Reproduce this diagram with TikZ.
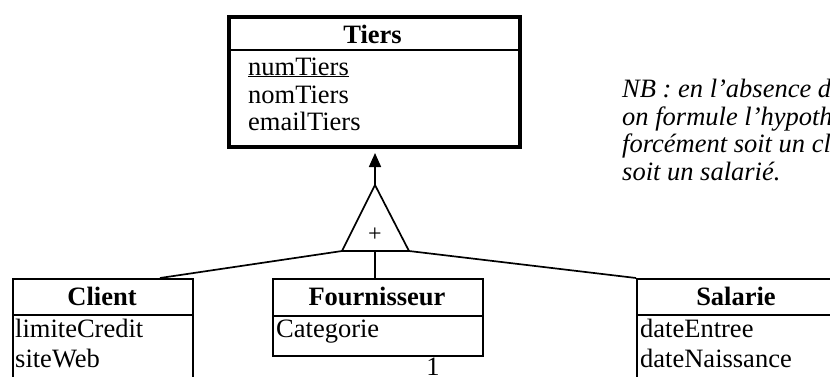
\documentclass[tikz,border=0pt]{standalone}
\usepackage{fontspec}
\setmainfont{Liberation Serif}
\usetikzlibrary{arrows.meta,calc}
\begin{document}
\begin{tikzpicture}[x=1pt,y=-1pt,
  txt/.style={inner sep=0pt, anchor=base west, font=\fontsize{26.5}{28}\selectfont},
  ttl/.style={inner sep=0pt, anchor=base, font=\fontsize{26.5}{28}\selectfont\bfseries},
  note/.style={inner sep=0pt, anchor=base west, font=\fontsize{26.5}{28}\selectfont\itshape},
  classbox/.style={draw, line width=1.7pt, inner sep=0pt, anchor=north west},
  heavybox/.style={draw, line width=3.5pt, inner sep=0pt, anchor=north west},
  divider/.style={line width=1.7pt},
  link/.style={line width=1.7pt},
]
\useasboundingbox (0,0) rectangle (830,376);
\clip (0,0) rectangle (830,376);

% --- parent class Tiers
\node[heavybox, minimum width=291, minimum height=130] (tiers) at (227,15) {};
\draw[line width=2pt] ($(tiers.north west)+(0,35)$) -- ($(tiers.north east)+(0,35)$);
\node[ttl] (tiersT) at (372.5,43) {Tiers};
\node[txt] (tiersA1) at (248,75) {\underline{numTiers}};
\node[txt] (tiersA2) at (248,103) {nomTiers};
\node[txt] (tiersA3) at (248,130) {emailTiers};

% --- note
\node[note] (nb1) at (622,97) {NB : en l'absence de};
\node[note] (nb2) at (622,125) {on formule l'hypothèse};
\node[note] (nb3) at (622,152) {forcément soit un client};
\node[note] (nb4) at (622,180) {soit un salarié.};

% --- sub-classes
\node[classbox, minimum width=180, minimum height=150] (client) at (12,278) {};
\draw[divider] ($(client.north west)+(0,37)$) -- ($(client.north east)+(0,37)$);
\node[ttl] (clientT) at (102,305) {Client};
\node[txt] (clientA1) at (15,337) {limiteCredit};
\node[txt] (clientA2) at (15,367) {siteWeb};

\node[classbox, minimum width=210, minimum height=77] (fourn) at (272,278) {};
\draw[divider] ($(fourn.north west)+(0,38)$) -- ($(fourn.north east)+(0,38)$);
\node[ttl] (fournT) at (377,305) {Fournisseur};
\node[txt] (fournA1) at (276,337) {Categorie};
\node[inner sep=0pt, anchor=north, font=\fontsize{26.5}{28}\selectfont] (card) at (433,358) {1};

\node[classbox, minimum width=200, minimum height=150] (salarie) at (636,278) {};
\draw[divider] ($(salarie.north west)+(0,37)$) -- ($(salarie.north east)+(0,37)$);
\node[ttl] (salarieT) at (736,305) {Salarie};
\node[txt] (salarieA1) at (640,337) {dateEntree};
\node[txt] (salarieA2) at (640,367) {dateNaissance};

% --- specialisation triangle
\coordinate (apex) at (375,185);
\coordinate (baseL) at (342,251);
\coordinate (baseR) at (409,251);
\coordinate (baseM) at (375,251);
\coordinate (isa) at (375,153);
\draw[link, line join=miter] (apex) -- (baseR) -- (baseL) -- cycle;
\node[inner sep=0pt, font=\fontsize{24}{24}\selectfont] (plus) at (375,235) {+};
\draw[link, -{Triangle[length=14pt,width=12pt]}] (apex) -- (isa);
\draw[link] (baseL) -- ([xshift=148pt]client.north west);
\draw[link] (baseM) -- (baseM |- fourn.north);
\draw[link] (baseR) -- (salarie.north west);
\end{tikzpicture}
\end{document}
